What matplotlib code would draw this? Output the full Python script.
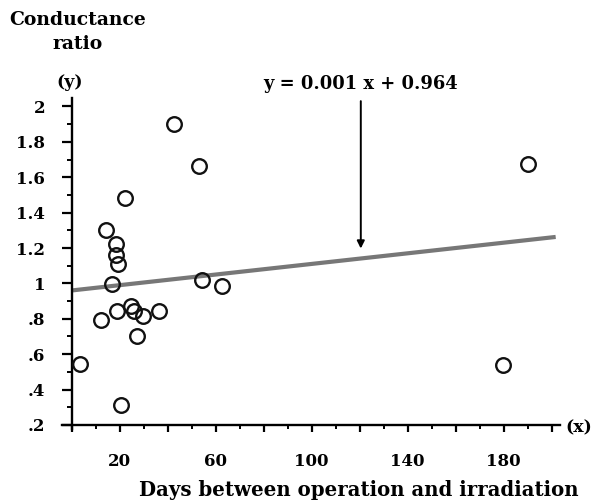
import matplotlib
matplotlib.use("Agg")
import matplotlib.pyplot as plt
from matplotlib.ticker import MultipleLocator, FuncFormatter

# Data
days = [3.5, 12.1, 14.2, 18.5, 18.3, 19.4, 16.9, 22.2, 19.1, 24.7, 26.0,
        29.8, 27.3, 36.5, 20.4, 42.8, 53.2, 54.2, 62.5, 179.8, 190.3]
ratio = [0.544, 0.795, 1.30, 1.225, 1.158, 1.107, 0.994, 1.485, 0.844, 0.872, 0.844,
         0.814, 0.701, 0.844, 0.313, 1.903, 1.665, 1.017, 0.985, 0.538, 1.674]

fit_x = [0, 201.7]
fit_intercept = 0.96
fit_slope = 0.0015
equation = "y = 0.001 x + 0.964"
x_tick_labels = [20, 60, 100, 140, 180]
y_tick_values = [0.2, 0.4, 0.6, 0.8, 1.0, 1.2, 1.4, 1.6, 1.8, 2.0]
y_tick_labels = [".2", ".4", ".6", ".8", "1", "1.2", "1.4", "1.6", "1.8", "2"]

plt.rcParams['font.family'] = ['DejaVu Serif']
plt.rcParams['font.weight'] = 'bold'

fig = plt.figure(figsize=(5.96, 5.01), dpi=100)
ax = fig.add_axes([0.104, 0.1447, 0.8356, 0.6605])

ax.set_xlim(-4, 203.5)
ax.set_ylim(0.18, 2.05)

for s in ['top', 'right']:
    ax.spines[s].set_visible(False)
ax.spines['left'].set_position(('data', 0))
ax.spines['bottom'].set_position(('data', 0.2))
ax.spines['left'].set_linewidth(1.7)
ax.spines['bottom'].set_linewidth(1.7)

# fitted line
fit_y = [fit_intercept + fit_slope * v for v in fit_x]
ax.plot(fit_x, fit_y, color='#777777', lw=3.0, solid_capstyle='butt', zorder=2)

# points
ax.plot(days, ratio, linestyle='none', marker='o', markersize=10.5,
        markerfacecolor='none', markeredgecolor='#111111', markeredgewidth=1.7,
        zorder=3, clip_on=False)

# ticks
ax.set_xticks([v for v in range(0, 201, 20)])
ax.xaxis.set_minor_locator(MultipleLocator(10))
ax.xaxis.set_major_formatter(FuncFormatter(
    lambda v, p: str(int(round(v))) if int(round(v)) in x_tick_labels else ""))
ax.set_yticks(y_tick_values)
ax.set_yticklabels(y_tick_labels)
ax.yaxis.set_minor_locator(MultipleLocator(0.1))

ax.tick_params(axis='x', which='major', direction='out', length=5, width=1.6,
               pad=15, labelsize=12)
ax.tick_params(axis='x', which='minor', direction='out', length=3, width=1.4)
ax.tick_params(axis='y', which='major', direction='out', length=7, width=1.6,
               pad=12, labelsize=12)
ax.tick_params(axis='y', which='minor', direction='out', length=3.5, width=1.4)
for lab in ax.get_xticklabels() + ax.get_yticklabels():
    lab.set_fontweight('bold')

# arrow and equation
ax.annotate("", xy=(120.5, 1.197), xytext=(120.5, 2.03),
            arrowprops=dict(arrowstyle='-|>', color='black', lw=1.4,
                            mutation_scale=11, shrinkA=0, shrinkB=0),
            annotation_clip=False)
ax.text(120.5, 2.127, equation, ha='center', va='center', fontsize=12.9,
        fontweight='bold', clip_on=False)

# axis labels
fig.text(78 / 596, 1 - 32 / 501, "Conductance\nratio", ha='center', va='center',
         fontsize=13.5, fontweight='bold', linespacing=1.4)
fig.text(70 / 596, 1 - 83 / 501, "(y)", ha='center', va='center',
         fontsize=12.5, fontweight='bold')
fig.text(579 / 596, 1 - 428 / 501, "(x)", ha='center', va='center',
         fontsize=12.5, fontweight='bold')
fig.text(359 / 596, 1 - 490 / 501, "Days between operation and irradiation",
         ha='center', va='center', fontsize=14.2, fontweight='bold')

fig.savefig("out.png", dpi=100)
